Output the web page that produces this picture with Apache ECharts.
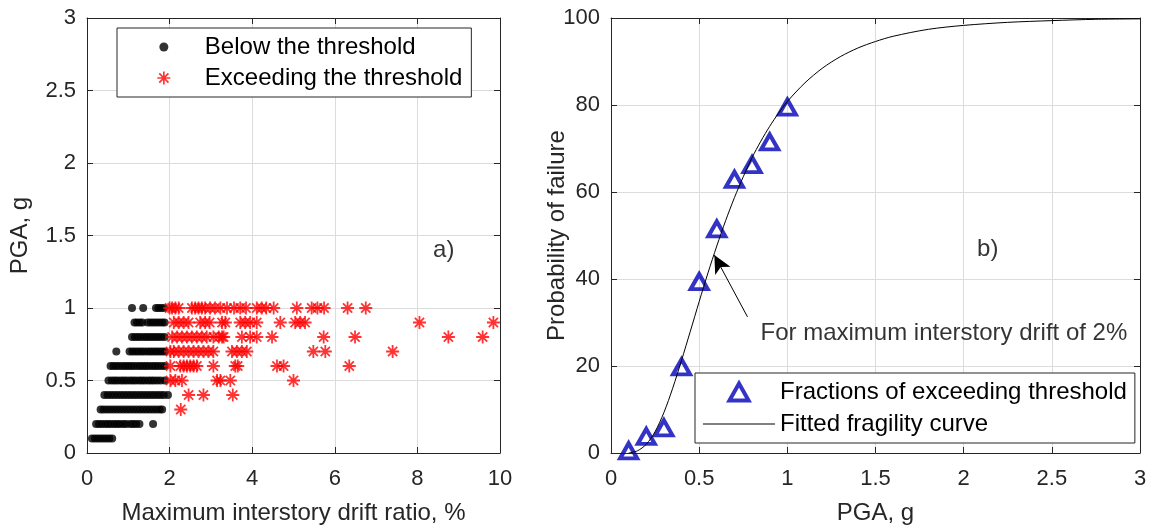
<!DOCTYPE html>
<html>
<head>
<meta charset="utf-8">
<script src="https://cdn.jsdelivr.net/npm/echarts@6/dist/echarts.min.js"></script>
<style>html,body{margin:0;padding:0;background:#fff}#c{width:1154px;height:526px}</style>
</head>
<body>
<div id="c"></div>
<script>
// ---------- Panel a) data: PGA levels (g) and drift ratios (%) ----------
const pgaLevels = [1.0, 0.9, 0.8, 0.7, 0.6, 0.5, 0.4, 0.3, 0.2, 0.1];

const belowPga10 = [1.09, 1.36, 1.67, 1.73, 1.79, 1.86];
const belowPga09 = [1.15, 1.21, 1.28, 1.34, 1.47, 1.54, 1.61, 1.68, 1.75, 1.82, 1.88];
const belowPga08 = [1.09, 1.16, 1.23, 1.30, 1.38, 1.45, 1.52, 1.59, 1.66, 1.73, 1.80, 1.88];
const belowPga07 = [0.71, 1.03, 1.10, 1.17, 1.24, 1.31, 1.38, 1.46, 1.53, 1.60, 1.67, 1.74, 1.81, 1.88];
const belowPga06 = [0.57, 0.64, 0.71, 0.78, 0.86, 0.93, 1.00, 1.07, 1.14, 1.22, 1.29, 1.36, 1.43, 1.50, 1.58, 1.65, 1.72, 1.80, 1.88];
const belowPga05 = [0.52, 0.60, 0.67, 0.74, 0.82, 0.89, 0.96, 1.04, 1.11, 1.18, 1.26, 1.33, 1.40, 1.48, 1.55, 1.62, 1.70, 1.78, 1.88];
const belowPga04 = [0.42, 0.50, 0.58, 0.66, 0.74, 0.82, 0.90, 0.98, 1.06, 1.14, 1.22, 1.30, 1.38, 1.46, 1.54, 1.62, 1.70, 1.78, 1.86, 1.96];
const belowPga03 = [0.33, 0.40, 0.48, 0.56, 0.64, 0.72, 0.80, 0.88, 0.96, 1.04, 1.12, 1.20, 1.28, 1.36, 1.44, 1.52, 1.60, 1.68, 1.76, 1.82];
const belowPga02 = [0.22, 0.29, 0.36, 0.44, 0.51, 0.58, 0.66, 0.73, 0.80, 0.88, 0.95, 1.05, 1.12, 1.19, 1.27, 1.60];
const belowPga01 = [0.12, 0.19, 0.26, 0.33, 0.40, 0.47, 0.54, 0.61];

const exceedPga10 = [2.00, 2.06, 2.14, 2.22, 2.54, 2.62, 2.70, 2.78, 2.86, 2.98, 3.10, 3.23, 3.39, 3.56, 3.71, 3.85, 4.11, 4.23, 4.34, 4.52, 5.08, 5.44, 5.58, 5.74, 6.31, 6.75];
const exceedPga09 = [2.10, 2.22, 2.34, 2.46, 2.74, 2.86, 2.97, 3.27, 3.35, 3.71, 3.83, 3.95, 4.11, 4.68, 5.04, 5.16, 5.28, 8.05, 9.84];
const exceedPga08 = [2.06, 2.18, 2.30, 2.42, 2.54, 2.66, 2.78, 2.90, 3.06, 3.19, 3.27, 3.31, 3.75, 3.95, 4.11, 4.48, 5.73, 6.49, 8.75, 9.58];
const exceedPga07 = [2.02, 2.10, 2.22, 2.34, 2.46, 2.58, 2.70, 2.82, 2.94, 3.06, 3.51, 3.63, 3.75, 3.87, 5.48, 5.77, 7.40];
const exceedPga06 = [2.02, 2.26, 2.34, 2.42, 2.50, 2.58, 2.66, 3.06, 3.59, 3.65, 4.60, 4.76, 6.35];
const exceedPga05 = [2.02, 2.14, 2.30, 3.15, 3.23, 3.47, 5.00];
const exceedPga04 = [2.46, 2.82, 3.53];
const exceedPga03 = [2.27];
const exceedPga02 = [];
const exceedPga01 = [];

// ---------- Panel b) data ----------
const pgaSample = [0.1, 0.2, 0.3, 0.4, 0.5, 0.6, 0.7, 0.8, 0.9, 1.0];
const failureFraction = [0.5, 3.8, 5.8, 19.8, 39.4, 51.5, 62.9, 66.3, 71.5, 79.5];

const curvePga  = [0.1, 0.15, 0.2, 0.25, 0.3, 0.35, 0.4, 0.45, 0.5, 0.55, 0.6, 0.65, 0.7, 0.75, 0.8, 0.85, 0.9, 0.95, 1.0, 1.1, 1.2, 1.3, 1.4, 1.5, 1.6, 1.8, 2.0, 2.25, 2.5, 2.75, 3.0];
const curveProb = [0.0, 0.5, 2.0, 4.9, 9.3, 14.9, 21.3, 28.0, 34.8, 41.4, 47.6, 53.4, 58.7, 63.5, 67.9, 71.7, 75.1, 78.1, 80.8, 85.1, 88.5, 91.1, 93.1, 94.6, 95.8, 97.4, 98.3, 99.0, 99.4, 99.7, 99.8];

// tick values
const driftTicks = [0, 2, 4, 6, 8, 10];
const pgaTicksA = [0, 0.5, 1, 1.5, 2, 2.5, 3];
const pgaTicksB = [0, 0.5, 1, 1.5, 2, 2.5, 3];
const probTicks = [0, 20, 40, 60, 80, 100];

// annotations (data coordinates)
const tagA = { text: 'a)', at: [8.38, 1.40] };
const tagB = { text: 'b)', at: [2.076, 46.7] };
const noteB = { text: 'For maximum interstory drift of 2%', at: [0.848, 27.4] };
const arrowFrom = [0.774, 31.3];
const arrowTo = [0.586, 45.5];

// ---------- build ----------
const belowRows = [belowPga10, belowPga09, belowPga08, belowPga07, belowPga06, belowPga05, belowPga04, belowPga03, belowPga02, belowPga01];
const exceedRows = [exceedPga10, exceedPga09, exceedPga08, exceedPga07, exceedPga06, exceedPga05, exceedPga04, exceedPga03, exceedPga02, exceedPga01];
function toPoints(rows) {
  const out = [];
  rows.forEach((r, i) => r.forEach(d => out.push([d, pgaLevels[i]])));
  return out;
}
const FONT = '"Liberation Sans", Arial, Helvetica, sans-serif';
const AX = '#262626';
const GRIDC = '#dcdcdc';

function axisPair(gridIndex, ticks, isX, labelSize) {
  const min = ticks[0], max = ticks[ticks.length - 1], interval = ticks[1] - ticks[0];
  const main = {
    type: 'value', gridIndex, min, max, interval,
    position: isX ? 'bottom' : 'left',
    nameMoveOverlap: false,
    axisLine: { show: true, onZero: false, lineStyle: { color: AX, width: 1 } },
    axisTick: { show: true, inside: true, length: 6, lineStyle: { color: AX } },
    splitLine: { show: true, lineStyle: { color: GRIDC, width: 1 } },
    axisLabel: { color: AX, fontSize: labelSize, fontFamily: FONT, margin: isX ? 15 : 11 },
    nameTextStyle: { color: AX, fontSize: 24, fontFamily: FONT }
  };
  const other = {
    type: 'value', gridIndex, min, max, interval,
    position: isX ? 'top' : 'right',
    axisLine: { show: true, onZero: false, lineStyle: { color: AX, width: 1 } },
    axisTick: { show: true, inside: true, length: 6, lineStyle: { color: AX } },
    splitLine: { show: false },
    axisLabel: { show: false }
  };
  return [main, other];
}

const [xA, xA2] = axisPair(0, driftTicks, true, 22);
xA.name = 'Maximum interstory drift ratio, %'; xA.nameLocation = 'middle'; xA.nameGap = 48;
const [yA, yA2] = axisPair(0, pgaTicksA, false, 22);
yA.name = 'PGA, g'; yA.nameLocation = 'middle'; yA.nameGap = 55;
const [xB, xB2] = axisPair(1, pgaTicksB, true, 22);
xB.name = 'PGA, g'; xB.nameLocation = 'middle'; xB.nameGap = 48;
const [yB, yB2] = axisPair(1, probTicks, false, 22);
yB.name = 'Probability of failure'; yB.nameLocation = 'middle'; yB.nameGap = 42;

const asteriskPath = 'path://M0 6L12 6M6 0L6 12M1.76 1.76L10.24 10.24M1.76 10.24L10.24 1.76';
const legendDot = 'path://M0 0M16 16M12.5 8A4.5 4.5 0 1 1 3.5 8A4.5 4.5 0 1 1 12.5 8Z';
const legendAst = 'path://M0 0M16 16M1.5 8L14.5 8M8 1.5L8 14.5M3.4 3.4L12.6 12.6M3.4 12.6L12.6 3.4';
const legendTri = 'path://M9 0L18 16L0 16Z';
const legendLine = 'path://M0 0L72 0L72 1.2L0 1.2Z';
const BLUE = '#0000b8';

function textSeries(t, xi, yi) {
  return {
    type: 'scatter', name: t.text, xAxisIndex: xi, yAxisIndex: yi,
    symbol: 'circle', symbolSize: 0, silent: true, z: 10,
    data: [t.at],
    label: { show: true, position: 'right', distance: 0, formatter: t.text, color: '#000', fontSize: 24, fontFamily: FONT }
  };
}

const option = {
  animation: false,
  backgroundColor: '#fff',
  textStyle: { fontFamily: FONT },
  grid: [
    { left: 87, top: 18, width: 413, height: 435, outerBoundsMode: 'none', containLabel: false },
    { left: 611, top: 18, width: 529, height: 435, outerBoundsMode: 'none', containLabel: false }
  ],
  xAxis: [xA, xA2, xB, xB2],
  yAxis: [yA, yA2, yB, yB2],
  legend: [
    {
      left: 117, top: 28, orient: 'vertical', selectedMode: false,
      itemWidth: 72, itemHeight: 16, itemGap: 7, padding: [7, 9, 7, 38],
      borderColor: AX, borderWidth: 1, borderRadius: 0, backgroundColor: '#fff',
      textStyle: { fontSize: 24, color: '#000', fontFamily: FONT, lineHeight: 24 },
      data: [
        { name: 'Below the threshold', icon: legendDot, itemStyle: { color: '#000', borderWidth: 0 } },
        { name: 'Exceeding the threshold', icon: legendAst, itemStyle: { color: 'rgba(0,0,0,0)', borderColor: '#ff0000', borderWidth: 1.7 } }
      ]
    },
    {
      left: 695, top: 373, orient: 'vertical', selectedMode: false,
      itemWidth: 72, itemHeight: 17, itemGap: 8, padding: [7, 8, 7, 8],
      borderColor: AX, borderWidth: 1, borderRadius: 0, backgroundColor: '#fff',
      textStyle: { fontSize: 24, color: '#000', fontFamily: FONT, lineHeight: 24 },
      data: [
        { name: 'Fractions of exceeding threshold', icon: legendTri, itemStyle: { color: 'rgba(0,0,0,0)', borderColor: BLUE, borderWidth: 4 } },
        { name: 'Fitted fragility curve', icon: legendLine, itemStyle: { color: '#000', borderWidth: 0 } }
      ]
    }
  ],
  series: [
    {
      type: 'scatter', name: 'Below the threshold', xAxisIndex: 0, yAxisIndex: 0,
      symbol: 'circle', symbolSize: 8, silent: true,
      itemStyle: { color: '#000' },
      data: toPoints(belowRows)
    },
    {
      type: 'scatter', name: 'Exceeding the threshold', xAxisIndex: 0, yAxisIndex: 0,
      symbol: asteriskPath, symbolSize: 13, silent: true,
      itemStyle: { color: 'rgba(0,0,0,0)', borderColor: '#ff0000', borderWidth: 1.8 },
      data: toPoints(exceedRows)
    },
    textSeries(tagA, 0, 0),
    {
      type: 'scatter', name: 'Fractions of exceeding threshold', xAxisIndex: 2, yAxisIndex: 2,
      symbol: 'triangle', symbolSize: [17, 15], silent: true, clip: false,
      itemStyle: { color: 'rgba(0,0,0,0)', borderColor: BLUE, borderWidth: 4 },
      data: pgaSample.map((p, i) => [p, failureFraction[i]])
    },
    {
      type: 'line', name: 'Fitted fragility curve', xAxisIndex: 2, yAxisIndex: 2,
      showSymbol: false, symbol: 'none', smooth: 0.3, silent: true,
      lineStyle: { color: '#000', width: 1 },
      itemStyle: { color: '#000' },
      data: curvePga.map((p, i) => [p, curveProb[i]]),
      markLine: {
        silent: true, animation: false,
        symbol: ['none', 'arrow'], symbolSize: [13, 18],
        lineStyle: { color: '#000', width: 1, type: 'solid' },
        label: { show: false },
        data: [[{ coord: arrowFrom }, { coord: arrowTo }]]
      }
    },
    textSeries(tagB, 2, 2),
    textSeries(noteB, 2, 2)
  ]
};

const chart = echarts.init(document.getElementById('c'), null, { renderer: 'canvas' });
chart.setOption(option);
</script>
</body>
</html>
